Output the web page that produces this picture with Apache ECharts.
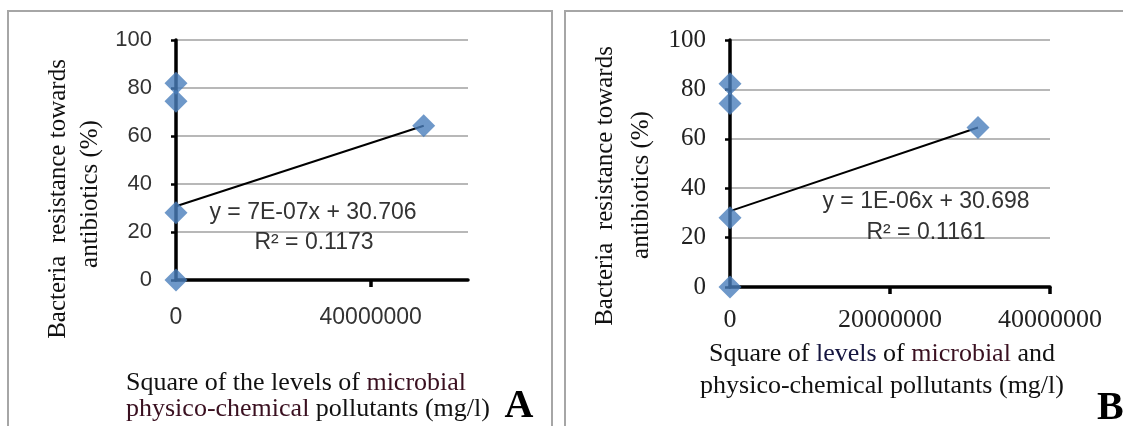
<!DOCTYPE html>
<html><head><meta charset="utf-8">
<script src="https://cdn.jsdelivr.net/npm/echarts@6/dist/echarts.min.js"></script>
<style>html,body{margin:0;padding:0;background:#fff}#c{width:1123px;height:426px}</style>
</head><body><div id="c"></div>
<script>
// ---- data ----
const yTickValues = [0, 20, 40, 60, 80, 100];
const xTickValuesA = [0, 40000000];
const xTickValuesB = [0, 20000000, 40000000];
const pointsAx = [0, 0, 0, 0, 50900000];
const pointsAy = [82, 74.5, 28, 0, 64.3];
const pointsBx = [0, 0, 0, 0, 31000000];
const pointsBy = [82.3, 74.3, 28, 0, 64.6];
const trendAx = [0, 50900000];
const trendAy = [30.706, 64.3];
const trendBx = [0, 31000000];
const trendBy = [30.698, 64.6];
const equationA = ['y = 7E-07x + 30.706', 'R\u00B2 = 0.1173'];
const equationB = ['y = 1E-06x + 30.698', 'R\u00B2 = 0.1161'];
const yTitle = ['Bacteria  resistance towards', 'antibiotics (%)'];

const zip = (a, b) => a.map((v, i) => [v, b[i]]);
const SANS = 'Liberation Sans';
const SERIF = 'Liberation Serif';
const plain = v => String(v);

function yAxis(gi, serif) {
  return {
    type: 'value', gridIndex: gi, min: 0, max: 100, interval: 20,
    axisLine: { show: true, lineStyle: { color: '#000', width: 3.5 } },
    axisTick: { show: true, length: 5, lineStyle: { color: '#000', width: 2.5 } },
    axisLabel: { margin: 24, color: serif ? '#222' : '#333', fontSize: serif ? 25 : 22, fontFamily: serif ? SERIF : SANS,
      customValues: yTickValues, formatter: plain },
    splitLine: { show: true, lineStyle: { color: '#a0a0a0', width: 1.5 } }
  };
}

const chart = echarts.init(document.getElementById('c'), null, { renderer: 'canvas' });
chart.setOption({
  backgroundColor: '#fff',
  animation: false,
  grid: [
    { left: 176, top: 40, width: 292, height: 240 },
    { left: 730, top: 40, width: 320, height: 247 }
  ],
  xAxis: [
    { type: 'value', gridIndex: 0, min: 0, max: 60000000,
      axisLine: { lineStyle: { color: '#000', width: 3.5 } },
      axisTick: { show: true, customValues: [40000000], length: 7, lineStyle: { color: '#000', width: 3.5 } },
      axisLabel: { customValues: xTickValuesA, margin: 26, color: '#333', fontSize: 23, fontFamily: SANS, formatter: plain },
      splitLine: { show: false } },
    { type: 'value', gridIndex: 1, min: 0, max: 40000000,
      axisLine: { lineStyle: { color: '#000', width: 3.5 } },
      axisTick: { show: true, customValues: [20000000, 40000000], length: 7, lineStyle: { color: '#000', width: 3.5 } },
      axisLabel: { customValues: xTickValuesB, margin: 20, color: '#222', fontSize: 26, fontFamily: SERIF, formatter: plain },
      splitLine: { show: false } }
  ],
  yAxis: [yAxis(0, false), yAxis(1, true)],
  series: [
    { type: 'line', xAxisIndex: 0, yAxisIndex: 0, data: zip(trendAx, trendAy), showSymbol: false,
      lineStyle: { color: '#000', width: 2 }, z: 2 },
    { type: 'scatter', xAxisIndex: 0, yAxisIndex: 0, data: zip(pointsAx, pointsAy), symbol: 'diamond',
      symbolSize: 23, clip: false, itemStyle: { color: '#4a7ebb' }, z: 3 },
    { type: 'line', xAxisIndex: 1, yAxisIndex: 1, data: zip(trendBx, trendBy), showSymbol: false,
      lineStyle: { color: '#000', width: 2 }, z: 2 },
    { type: 'scatter', xAxisIndex: 1, yAxisIndex: 1, data: zip(pointsBx, pointsBy), symbol: 'diamond',
      symbolSize: 23, clip: false, itemStyle: { color: '#4a7ebb' }, z: 3 }
  ],
  graphic: [
    { type: 'rect', shape: { x: 8, y: 11, width: 544, height: 430 }, style: { fill: 'none', stroke: '#a6a6a6', lineWidth: 2 }, z: -1 },
    { type: 'rect', shape: { x: 565, y: 11, width: 580, height: 430 }, style: { fill: 'none', stroke: '#a6a6a6', lineWidth: 2 }, z: -1 },
    // equations
    { type: 'text', x: 313, y: 213, style: { text: equationA[0], font: '23px "Liberation Sans"', fill: '#333', align: 'center', verticalAlign: 'middle' }, z: 10 },
    { type: 'text', x: 314, y: 243, style: { text: equationA[1], font: '23px "Liberation Sans"', fill: '#333', align: 'center', verticalAlign: 'middle' }, z: 10 },
    { type: 'text', x: 926, y: 202, style: { text: equationB[0], font: '23px "Liberation Sans"', fill: '#333', align: 'center', verticalAlign: 'middle' }, z: 10 },
    { type: 'text', x: 926, y: 233, style: { text: equationB[1], font: '23px "Liberation Sans"', fill: '#333', align: 'center', verticalAlign: 'middle' }, z: 10 },
    // y titles
    { type: 'text', x: 58, y: 199, rotation: Math.PI / 2, style: { text: yTitle[0], font: '25px "Liberation Serif"', fill: '#111', align: 'center', verticalAlign: 'middle' } },
    { type: 'text', x: 90, y: 194, rotation: Math.PI / 2, style: { text: yTitle[1], font: '25px "Liberation Serif"', fill: '#111', align: 'center', verticalAlign: 'middle' } },
    { type: 'text', x: 605, y: 186, rotation: Math.PI / 2, style: { text: yTitle[0], font: '25px "Liberation Serif"', fill: '#111', align: 'center', verticalAlign: 'middle' } },
    { type: 'text', x: 641, y: 185, rotation: Math.PI / 2, style: { text: yTitle[1], font: '25px "Liberation Serif"', fill: '#111', align: 'center', verticalAlign: 'middle' } },
    // x titles A
    { type: 'text', x: 126, y: 383, style: { text: 'Square of the levels of {m|microbial}', font: '26px "Liberation Serif"', fill: '#111', align: 'left', verticalAlign: 'middle',
      rich: { m: { fill: '#3a1020', font: '26px "Liberation Serif"' } } } },
    { type: 'text', x: 126, y: 409, style: { text: '{m|physico-chemical} pollutants (mg/l)', font: '26px "Liberation Serif"', fill: '#111', align: 'left', verticalAlign: 'middle',
      rich: { m: { fill: '#3a1020', font: '26px "Liberation Serif"' } } } },
    { type: 'text', x: 519, y: 407, style: { text: 'A', font: 'bold 40px "Liberation Serif"', fill: '#000', align: 'center', verticalAlign: 'middle' } },
    // x titles B
    { type: 'text', x: 882, y: 354, style: { text: 'Square of {l|levels} of {m|microbial} and', font: '26px "Liberation Serif"', fill: '#111', align: 'center', verticalAlign: 'middle',
      rich: { m: { fill: '#3a1020', font: '26px "Liberation Serif"' }, l: { fill: '#15153f', font: '26px "Liberation Serif"' } } } },
    { type: 'text', x: 882, y: 386, style: { text: 'physico-chemical pollutants (mg/l)', font: '26px "Liberation Serif"', fill: '#111', align: 'center', verticalAlign: 'middle' } },
    { type: 'text', x: 1097, y: 409, style: { text: 'B', font: 'bold 40px "Liberation Serif"', fill: '#000', align: 'left', verticalAlign: 'middle' } }
  ]
});
</script>
</body></html>
